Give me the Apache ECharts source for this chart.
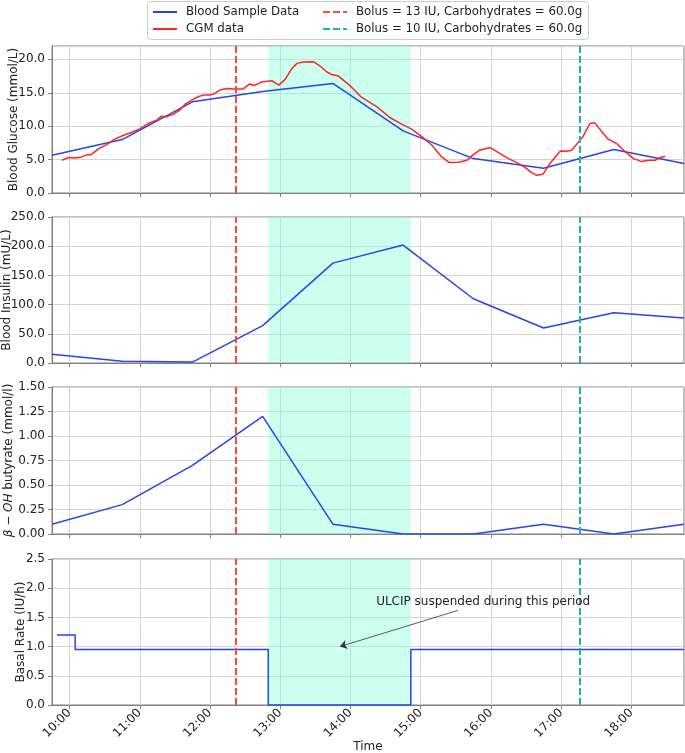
<!DOCTYPE html>
<html>
<head>
<meta charset="utf-8">
<script src="https://cdn.jsdelivr.net/npm/echarts@6/dist/echarts.min.js"></script>
<style>
  html, body { margin: 0; padding: 0; background: #fff; }
  #chart { width: 685px; height: 753px; }
</style>
</head>
<body>
<div id="chart"></div>
<script>
// time in decimal hours
const sampleTime = [9.75, 10.75, 11.75, 12.75, 13.75, 14.75, 15.75, 16.75, 17.75, 18.75];
const glucoseSample = [5.65, 8.0, 13.65, 15.2, 16.4, 9.3, 5.15, 3.7, 6.5, 4.4];
const insulinSample = [15, 3, 1.5, 64, 171, 202, 110, 60, 86, 77];
const butyrateSample = [0.1, 0.3, 0.7, 1.2, 0.1, 0, 0, 0.1, 0, 0.1];

const cgmTime = [9.89, 9.98, 10.08, 10.17, 10.24, 10.31, 10.41, 10.53, 10.65, 10.77, 10.89, 11.0,
  11.12, 11.24, 11.31, 11.38, 11.48, 11.57, 11.64, 11.74, 11.83, 11.9, 12.0, 12.07, 12.14, 12.24,
  12.33, 12.47, 12.56, 12.64, 12.73, 12.88, 12.98, 13.07, 13.16, 13.24, 13.33, 13.47, 13.57, 13.66,
  13.73, 13.83, 14.0, 14.16, 14.38, 14.56, 14.73, 14.87, 15.02, 15.16, 15.3, 15.41, 15.54, 15.66,
  15.75, 15.84, 15.99, 16.13, 16.25, 16.37, 16.49, 16.58, 16.65, 16.74, 16.84, 16.99, 17.08, 17.15,
  17.25, 17.31, 17.41, 17.48, 17.57, 17.66, 17.79, 17.89, 18.03, 18.15, 18.24, 18.34, 18.41, 18.48];
const cgmValue = [4.9, 5.3, 5.25, 5.4, 5.7, 5.75, 6.6, 7.25, 8.1, 8.65, 9.1, 9.6,
  10.4, 10.9, 11.5, 11.4, 11.8, 12.4, 13.25, 13.9, 14.4, 14.65, 14.65, 14.9, 15.4, 15.65,
  15.55, 15.55, 16.3, 16.1, 16.6, 16.8, 16.15, 17.0, 18.55, 19.4, 19.6, 19.65, 19.0, 18.15,
  17.75, 17.5, 16.0, 14.3, 12.9, 11.3, 10.3, 9.55, 8.4, 7.15, 5.4, 4.55, 4.6, 4.9,
  5.75, 6.4, 6.8, 5.9, 5.15, 4.55, 3.8, 3.05, 2.65, 2.8, 4.4, 6.3, 6.25, 6.4,
  7.65, 8.4, 10.4, 10.5, 9.3, 8.15, 7.4, 6.4, 5.15, 4.7, 4.9, 4.9, 5.3, 5.45];

const basalTime = [9.82, 10.08, 12.83, 14.86, 18.75];
const basalRate = [1.2, 0.95, 0, 0.95, 0.95];

const bolusTime = [12.36, 17.27];
const bolusNames = ['Bolus = 13 IU, Carbohydrates = 60.0g', 'Bolus = 10 IU, Carbohydrates = 60.0g'];
const suspended = [12.83, 14.86];

const hourTicks = [10, 11, 12, 13, 14, 15, 16, 17, 18];
const yMax = [22, 250, 1.5, 2.5];
const yStep = [5, 50, 0.25, 0.5];
const yDigits = [1, 1, 2, 1];
const yNames = ['Blood Glucose (mmol/L)', 'Blood Insulin (mU/L)', '{i|β − OH} butyrate (mmol/l)', 'Basal Rate (IU/h)'];
const yNameGap = [32, 39, 37, 25];

const note = 'ULCIP suspended during this period';
const noteText = [15.89, 1.77];
const noteFrom = [15.53, 1.62];
const noteTo = [13.85, 1.0];

const pairs = (xs, ys) => xs.map((x, i) => [x, ys[i]]);

const BLUE = '#2446e6';
const RED = '#ff2424';
const BOLUS = ['#ff4a33', '#1fb3ad'];
const FONT = 'DejaVu Sans';
const FS = 12;

const gridTops = [46, 217, 387, 559];
const gridHeights = [147, 146, 147, 146];

const grids = gridTops.map((t, i) => ({
  left: 52, right: 1, top: t, height: gridHeights[i],
  outerBoundsMode: 'none', containLabel: false,
  show: true, borderColor: '#808080', borderWidth: 1
}));

const xAxes = gridTops.map((t, i) => ({
  type: 'value', gridIndex: i, min: 9.75, max: 18.75,
  name: i === 3 ? 'Time' : '', nameLocation: 'middle', nameGap: 36, nameMoveOverlap: false,
  nameTextStyle: { fontSize: FS, color: '#222', fontFamily: FONT },
  axisLine: { show: true, onZero: false, lineStyle: { color: '#808080' } },
  axisTick: { show: true, customValues: hourTicks, length: 4, lineStyle: { color: '#808080' } },
  axisLabel: {
    show: i === 3, customValues: hourTicks, rotate: 45, margin: 6,
    fontSize: FS, color: '#222', fontFamily: FONT,
    formatter: v => v + ':00'
  },
  splitLine: { show: true, lineStyle: { color: '#d4d4d4', width: 1 } }
}));

const yAxes = gridTops.map((t, i) => ({
  type: 'value', gridIndex: i, min: 0, max: yMax[i], interval: yStep[i],
  name: yNames[i], nameLocation: 'middle', nameGap: yNameGap[i], nameMoveOverlap: false,
  nameTextStyle: {
    fontSize: FS, color: '#222', fontFamily: FONT,
    rich: { i: { fontStyle: 'italic', fontSize: FS, color: '#222', fontFamily: FONT } }
  },
  axisLine: { show: true, lineStyle: { color: '#808080' } },
  axisTick: { show: true, length: 4, lineStyle: { color: '#808080' } },
  axisLabel: {
    fontSize: FS, color: '#222', fontFamily: FONT, margin: 7, showMaxLabel: i !== 0,
    formatter: v => v.toFixed(yDigits[i])
  },
  splitLine: { show: true, lineStyle: { color: '#d4d4d4', width: 1 } }
}));

const series = [];

// suspension shading + bolus lines on every panel
gridTops.forEach((t, i) => {
  series.push({
    name: 'suspended', type: 'line', xAxisIndex: i, yAxisIndex: i, data: [], silent: true,
    markArea: {
      silent: true,
      itemStyle: { color: 'rgba(127,255,212,0.4)' },
      data: [[{ xAxis: suspended[0] }, { xAxis: suspended[1] }]]
    }
  });
  bolusTime.forEach((bt, k) => {
    series.push({
      name: bolusNames[k], type: 'line', xAxisIndex: i, yAxisIndex: i, data: [],
      symbol: 'none', z: 4,
      itemStyle: { color: BOLUS[k] },
      lineStyle: { color: BOLUS[k], width: 2, type: [7, 3] },
      markLine: {
        silent: true, symbol: 'none', animation: false,
        label: { show: false },
        lineStyle: { color: BOLUS[k], width: 2, type: [7, 3] },
        data: [{ xAxis: bt }]
      }
    });
  });
});

const blueLine = (data, i) => ({
  name: 'Blood Sample Data', type: 'line', xAxisIndex: i, yAxisIndex: i,
  data, symbol: 'none', z: 3,
  itemStyle: { color: BLUE }, lineStyle: { color: BLUE, width: 1.5 }
});

series.push(blueLine(pairs(sampleTime, glucoseSample), 0));
series.push({
  name: 'CGM data', type: 'line', xAxisIndex: 0, yAxisIndex: 0,
  data: pairs(cgmTime, cgmValue), symbol: 'none', z: 3,
  itemStyle: { color: RED }, lineStyle: { color: RED, width: 1.5 }
});
series.push(blueLine(pairs(sampleTime, insulinSample), 1));
series.push(blueLine(pairs(sampleTime, butyrateSample), 2));

const basal = blueLine(pairs(basalTime, basalRate), 3);
basal.step = 'end';
basal.markLine = {
  silent: true, animation: false,
  symbol: ['none', 'arrow'], symbolSize: 7,
  label: { show: false },
  lineStyle: { color: '#333', width: 0.8, type: 'solid' },
  data: [[{ coord: noteFrom }, { coord: noteTo }]]
};
basal.markPoint = {
  silent: true, animation: false,
  symbol: 'circle', symbolSize: 0,
  label: { show: true, position: 'inside', formatter: note, fontSize: FS, color: '#222', fontFamily: FONT },
  data: [{ coord: noteText }]
};
series.push(basal);

const legendBase = {
  orient: 'vertical', top: 5, padding: 0, itemWidth: 24, itemHeight: 12, itemGap: 3,
  itemStyle: { opacity: 0 },
  textStyle: { fontSize: 11.8, color: '#222', fontFamily: FONT, lineHeight: 14, padding: [0, 0, 0, 4] }
};

const chart = echarts.init(document.getElementById('chart'), null, { renderer: 'canvas' });
chart.setOption({
  animation: false,
  textStyle: { fontFamily: FONT },
  graphic: [{
    type: 'rect', left: 147, top: 1, z: 0,
    shape: { width: 441, height: 38, r: 3 },
    style: { fill: '#fff', stroke: '#cccccc', lineWidth: 1 }
  }],
  legend: [
    Object.assign({}, legendBase, { left: 152, data: ['Blood Sample Data', 'CGM data'] }),
    Object.assign({}, legendBase, { left: 322, data: bolusNames })
  ],
  grid: grids,
  xAxis: xAxes,
  yAxis: yAxes,
  series
});
</script>
</body>
</html>
